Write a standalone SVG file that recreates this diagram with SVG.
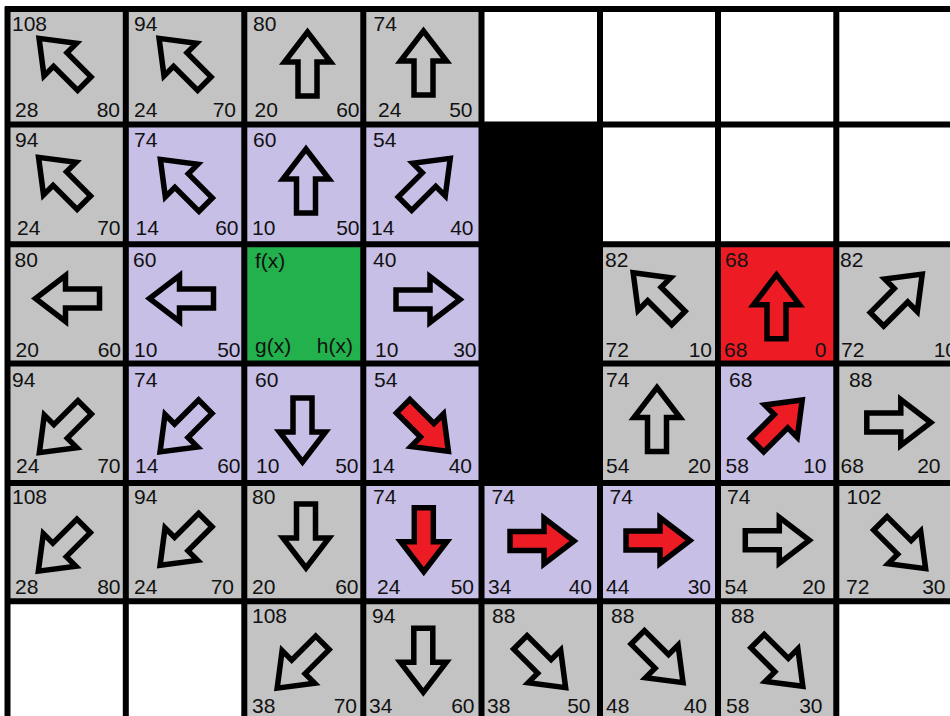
<svg xmlns="http://www.w3.org/2000/svg" xmlns:xlink="http://www.w3.org/1999/xlink" width="950" height="716" viewBox="0 0 950 716">
<style>
.gray{fill:#C3C3C3}
.lav{fill:#C8BFE7}
.green{fill:#22B14C}
.red{fill:#ED1C24}
.blk{fill:#000}
text{font-family:"Liberation Sans",Arial,sans-serif;font-size:21px;fill:#111}
text.r{text-anchor:end}
.grid{stroke:#000;stroke-width:6;fill:none}
</style>
<defs>
<path id="arr" d="M -32 -9.5 L 2 -9.5 L 2 -23 L 32 0 L 2 23 L 2 9.5 L -32 9.5 Z" stroke="#000" stroke-width="5.5" stroke-linejoin="miter" stroke-miterlimit="6"/>
</defs>
<rect x="0" y="0" width="950" height="716" fill="#fff"/>

<!-- Row 0 -->
<g id="r0c0"><rect class="gray" x="7.5" y="9" width="118.3" height="115.5"/><use xlink:href="#arr" fill="none" transform="translate(61.7,61) rotate(-135)"/><text x="12" y="31">108</text><text x="15" y="117">28</text><text class="r" x="120" y="117">80</text></g>
<g id="r0c1"><rect class="gray" x="125.8" y="9" width="118.5" height="115.5"/><use xlink:href="#arr" fill="none" transform="translate(181.7,61) rotate(-135)"/><text x="134" y="31">94</text><text x="134" y="117">24</text><text class="r" x="236" y="117">70</text></g>
<g id="r0c2"><rect class="gray" x="244.3" y="9" width="119" height="115.5"/><use xlink:href="#arr" fill="none" transform="translate(307.5,64) rotate(-90)"/><text x="253" y="31">80</text><text x="254.5" y="117">20</text><text class="r" x="359.5" y="117">60</text></g>
<g id="r0c3"><rect class="gray" x="363.3" y="9" width="118.2" height="115.5"/><use xlink:href="#arr" fill="none" transform="translate(423.5,63) rotate(-90)"/><text x="373.5" y="31">74</text><text x="378" y="117">24</text><text class="r" x="472.5" y="117">50</text></g>

<!-- Row 1 -->
<g id="r1c0"><rect class="gray" x="7.5" y="124.5" width="118.3" height="119.7"/><use xlink:href="#arr" fill="none" transform="translate(61.2,180) rotate(-135)"/><text x="15" y="147">94</text><text x="17" y="235">24</text><text class="r" x="120.5" y="235">70</text></g>
<g id="r1c1"><rect class="lav" x="125.8" y="124.5" width="118.5" height="119.7"/><use xlink:href="#arr" fill="none" transform="translate(183,182) rotate(-135)"/><text x="134" y="147">74</text><text x="135.5" y="235">14</text><text class="r" x="238.5" y="235">60</text></g>
<g id="r1c2"><rect class="lav" x="244.3" y="124.5" width="119" height="119.7"/><use xlink:href="#arr" fill="none" transform="translate(306,181) rotate(-90)"/><text x="253" y="147">60</text><text x="252" y="235">10</text><text class="r" x="359.5" y="235">50</text></g>
<g id="r1c3"><rect class="lav" x="363.3" y="124.5" width="118.2" height="119.7"/><use xlink:href="#arr" fill="none" transform="translate(427.6,181) rotate(-45)"/><text x="373" y="147">54</text><text x="371" y="235">14</text><text class="r" x="473.5" y="235">40</text></g>

<!-- Obstacle -->
<g id="wall"><rect class="blk" x="481.5" y="124.5" width="118.5" height="358.5"/></g>

<!-- Row 2 -->
<g id="r2c0"><rect class="gray" x="7.5" y="244.2" width="118.3" height="119.4"/><use xlink:href="#arr" fill="none" transform="translate(67.5,298.5) rotate(180)"/><text x="14.5" y="267">80</text><text x="15.5" y="357">20</text><text class="r" x="121" y="357">60</text></g>
<g id="r2c1"><rect class="lav" x="125.8" y="244.2" width="118.5" height="119.4"/><use xlink:href="#arr" fill="none" transform="translate(181.5,298.5) rotate(180)"/><text x="133" y="267">60</text><text x="134" y="357">10</text><text class="r" x="240.5" y="357">50</text></g>
<g id="r2c2"><rect class="green" x="244.3" y="244.2" width="119" height="119.4"/><text x="255" y="268">f(x)</text><text x="255" y="353">g(x)</text><text class="r" x="353" y="353">h(x)</text></g>
<g id="r2c3"><rect class="lav" x="363.3" y="244.2" width="118.2" height="119.4"/><use xlink:href="#arr" fill="none" transform="translate(428,299.5)"/><text x="373" y="267">40</text><text x="375" y="357">10</text><text class="r" x="476.5" y="357">30</text></g>
<g id="r2c5"><rect class="gray" x="600" y="244.2" width="118" height="119.4"/><use xlink:href="#arr" fill="none" transform="translate(655.8,295.4) rotate(-135)"/><text x="605" y="267">82</text><text x="605.5" y="357">72</text><text class="r" x="712" y="357">10</text></g>
<g id="r2c6"><rect class="red" x="718" y="244.2" width="118.3" height="119.4"/><use xlink:href="#arr" fill="#ED1C24" transform="translate(776.5,306.7) rotate(-90)"/><text x="725" y="267">68</text><text x="724" y="357">68</text><text class="r" x="826.5" y="357">0</text></g>
<g id="r2c7"><rect class="gray" x="836.3" y="244.2" width="118.7" height="119.4"/><use xlink:href="#arr" fill="none" transform="translate(899.6,296.7) rotate(-45)"/><text x="840" y="267">82</text><text x="841" y="357">72</text><text class="r" x="957" y="357">10</text></g>

<!-- Row 3 -->
<g id="r3c0"><rect class="gray" x="7.5" y="363.6" width="118.3" height="119.4"/><use xlink:href="#arr" fill="none" transform="translate(62,430) rotate(135)"/><text x="12" y="387">94</text><text x="16" y="473">24</text><text class="r" x="120.5" y="473">70</text></g>
<g id="r3c1"><rect class="lav" x="125.8" y="363.6" width="118.5" height="119.4"/><use xlink:href="#arr" fill="none" transform="translate(182.7,429.3) rotate(135)"/><text x="134" y="387">74</text><text x="135" y="473">14</text><text class="r" x="240.5" y="473">60</text></g>
<g id="r3c2"><rect class="lav" x="244.3" y="363.6" width="119" height="119.4"/><use xlink:href="#arr" fill="none" transform="translate(302.5,430) rotate(90)"/><text x="255" y="387">60</text><text x="256" y="473">10</text><text class="r" x="358.5" y="473">50</text></g>
<g id="r3c3"><rect class="lav" x="363.3" y="363.6" width="118.2" height="119.4"/><use xlink:href="#arr" fill="#ED1C24" transform="translate(425.8,428.8) rotate(45)"/><text x="374" y="387">54</text><text x="371.5" y="473">14</text><text class="r" x="472" y="473">40</text></g>
<g id="r3c5"><rect class="gray" x="600" y="363.6" width="118" height="119.4"/><use xlink:href="#arr" fill="none" transform="translate(657,419.5) rotate(-90)"/><text x="606" y="387">74</text><text x="606" y="473">54</text><text class="r" x="711" y="473">20</text></g>
<g id="r3c6"><rect class="lav" x="718" y="363.6" width="118.3" height="119.4"/><use xlink:href="#arr" fill="#ED1C24" transform="translate(779.6,422.6) rotate(-45)"/><text x="729" y="387">68</text><text x="725.5" y="473">58</text><text class="r" x="826.5" y="473">10</text></g>
<g id="r3c7"><rect class="gray" x="836.3" y="363.6" width="118.7" height="119.4"/><use xlink:href="#arr" fill="none" transform="translate(898.8,422.5)"/><text x="849" y="387">88</text><text x="840.5" y="473">68</text><text class="r" x="940.5" y="473">20</text></g>

<!-- Row 4 -->
<g id="r4c0"><rect class="gray" x="7.5" y="483" width="118.3" height="118.2"/><use xlink:href="#arr" fill="none" transform="translate(61,548.5) rotate(135)"/><text x="12" y="504">108</text><text x="15" y="594">28</text><text class="r" x="120.5" y="594">80</text></g>
<g id="r4c1"><rect class="gray" x="125.8" y="483" width="118.5" height="118.2"/><use xlink:href="#arr" fill="none" transform="translate(182.7,542.7) rotate(135)"/><text x="134" y="504">94</text><text x="134" y="594">24</text><text class="r" x="234" y="594">70</text></g>
<g id="r4c2"><rect class="gray" x="244.3" y="483" width="119" height="118.2"/><use xlink:href="#arr" fill="none" transform="translate(306,536) rotate(90)"/><text x="252" y="504">80</text><text x="252" y="594">20</text><text class="r" x="358.5" y="594">60</text></g>
<g id="r4c3"><rect class="lav" x="363.3" y="483" width="118.2" height="118.2"/><use xlink:href="#arr" fill="#ED1C24" transform="translate(423.8,539.7) rotate(90)"/><text x="373" y="504">74</text><text x="377" y="594">24</text><text class="r" x="474" y="594">50</text></g>
<g id="r4c4"><rect class="lav" x="481.5" y="483" width="118.5" height="118.2"/><use xlink:href="#arr" fill="#ED1C24" transform="translate(542,541)"/><text x="491.5" y="504">74</text><text x="488" y="594">34</text><text class="r" x="592" y="594">40</text></g>
<g id="r4c5"><rect class="lav" x="600" y="483" width="118" height="118.2"/><use xlink:href="#arr" fill="#ED1C24" transform="translate(658,540.5)"/><text x="609.5" y="504">74</text><text x="606" y="594">44</text><text class="r" x="711" y="594">30</text></g>
<g id="r4c6"><rect class="gray" x="718" y="483" width="118.3" height="118.2"/><use xlink:href="#arr" fill="none" transform="translate(777.3,540.3)"/><text x="727" y="504">74</text><text x="724.5" y="594">54</text><text class="r" x="825.5" y="594">20</text></g>
<g id="r4c7"><rect class="gray" x="836.3" y="483" width="118.7" height="118.2"/><use xlink:href="#arr" fill="none" transform="translate(903,546) rotate(45)"/><text x="846.5" y="504">102</text><text x="846" y="594">72</text><text class="r" x="945.5" y="594">30</text></g>

<!-- Row 5 -->
<g id="r5c2"><rect class="gray" x="244.3" y="601.2" width="119" height="118.8"/><use xlink:href="#arr" fill="none" transform="translate(299.8,665.5) rotate(135)"/><text x="252" y="623">108</text><text x="252" y="713">38</text><text class="r" x="357" y="713">70</text></g>
<g id="r5c3"><rect class="gray" x="363.3" y="601.2" width="118.2" height="118.8"/><use xlink:href="#arr" fill="none" transform="translate(423.3,660.3) rotate(90)"/><text x="372" y="623">94</text><text x="369" y="713">34</text><text class="r" x="474.5" y="713">60</text></g>
<g id="r5c4"><rect class="gray" x="481.5" y="601.2" width="118.5" height="118.8"/><use xlink:href="#arr" fill="none" transform="translate(543,665) rotate(45)"/><text x="492" y="623">88</text><text x="487" y="713">38</text><text class="r" x="590.5" y="713">50</text></g>
<g id="r5c5"><rect class="gray" x="600" y="601.2" width="118" height="118.8"/><use xlink:href="#arr" fill="none" transform="translate(660.4,660) rotate(45)"/><text x="611" y="623">88</text><text x="606" y="713">48</text><text class="r" x="707" y="713">40</text></g>
<g id="r5c6"><rect class="gray" x="718" y="601.2" width="118.3" height="118.8"/><use xlink:href="#arr" fill="none" transform="translate(780.2,663.7) rotate(45)"/><text x="731" y="623">88</text><text x="726" y="713">58</text><text class="r" x="822.5" y="713">30</text></g>

<!-- Grid lines -->
<g id="connectors" class="grid">
<path d="M7.5 6.5V716M125.8 6.5V716M244.3 6.5V716M363.3 6.5V716M481.5 6.5V716M600 6.5V716M718 6.5V716M836.3 6.5V716"/>
<path d="M5 9H950M5 124.5H950M5 244.2H950M5 363.6H950M5 483H950M5 601.2H950"/>
</g>
</svg>
